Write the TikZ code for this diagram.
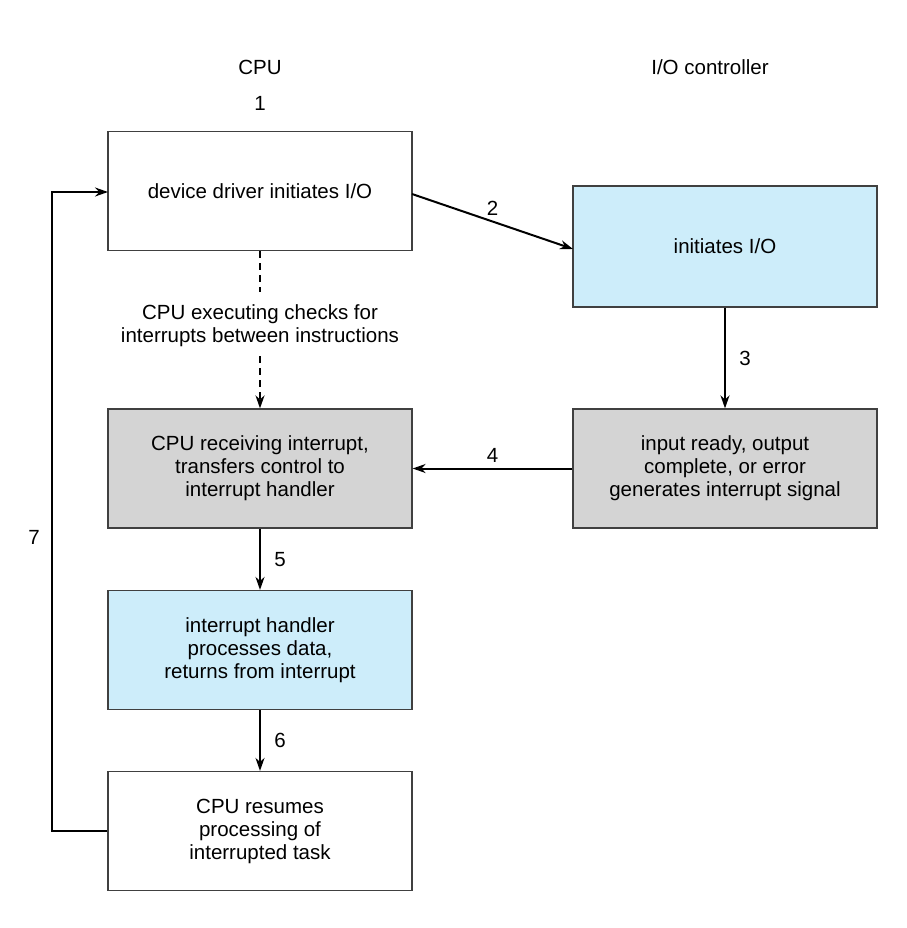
\documentclass[tikz,border=0pt]{standalone}
\usepackage{fontspec}
\setmainfont{Liberation Sans}
\usetikzlibrary{arrows.meta}
\definecolor{lblue}{HTML}{CDEDFA}
\definecolor{lgray}{HTML}{D4D4D4}
\begin{document}
\begin{tikzpicture}[x=1pt,y=-1pt,
  box/.style={draw=black!75,line width=1.2pt,minimum width=304pt,minimum height=119pt,align=center,inner sep=0pt,font=\fontsize{20.5}{23}\selectfont},
  arr/.style={line width=2pt,-{Stealth[length=13pt,width=9pt]}},
  lab/.style={font=\fontsize{20.5}{23}\selectfont}]
\useasboundingbox (0,0) rectangle (906,928);
\node[lab] (cpu) at (260,67) {CPU};
\node[lab] (one) at (260,103) {1};
\node[lab] (ioc) at (710,67) {I/O controller};
\node[box] (b1) at (260,191) {device driver initiates I/O};
\node[box,fill=lblue,minimum height=121pt] (b2) at (725,246.5) {initiates I/O};
\node[box,fill=lgray] (b3) at (260,468.5) {CPU receiving interrupt,\\transfers control to\\interrupt handler};
\node[box,fill=lgray] (b4) at (725,468.5) {input ready, output\\complete, or error\\generates interrupt signal};
\node[box,fill=lblue] (b5) at (260,650) {interrupt handler\\processes data,\\returns from interrupt};
\node[box] (b6) at (260,831) {CPU resumes\\processing of\\interrupted task};
\node[lab,align=center] (chk) at (260,326) {CPU executing checks for\\interrupts between instructions};
\coordinate (d1) at (260,292);
\coordinate (d2) at (260,356);
\draw[line width=2pt,dash pattern=on 7pt off 5pt] (b1.south) -- (d1);
\draw[arr,dash pattern=on 7pt off 5pt] (d2) -- (b3.north);
\coordinate (s2) at (412,194);
\coordinate (t2) at (573,249);
\draw[arr] (s2) -- node[lab,above=2pt,pos=0.5] {2} (t2);
\draw[arr] (b2.south) -- node[lab,right=10pt] {3} (b4.north);
\draw[arr] (b4.west) -- node[lab,above=2pt] {4} (b3.east);
\draw[arr] (b3.south) -- node[lab,right=10pt] {5} (b5.north);
\draw[arr] (b5.south) -- node[lab,right=10pt] {6} (b6.north);
\coordinate (c1) at (52,831);
\coordinate (c2) at (52,192);
\coordinate (e1) at (108,192);
\draw[arr] (b6.west) -- (c1) -- node[lab,left=8pt,pos=0.46] {7} (c2) -- (e1);
\end{tikzpicture}
\end{document}
